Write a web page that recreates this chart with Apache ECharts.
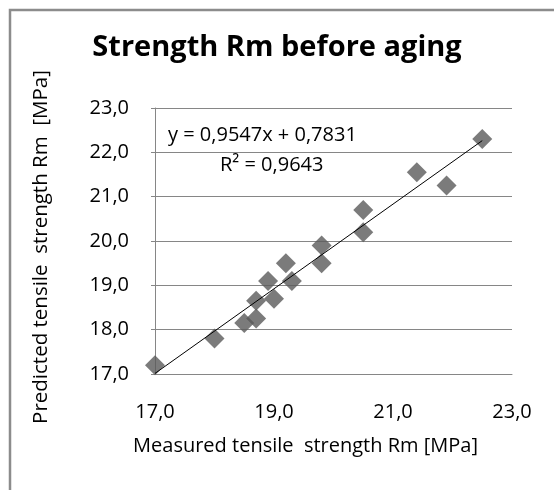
<!DOCTYPE html>
<html lang="en">
<head>
    <meta charset="UTF-8">
    <title>Strength Rm before aging</title>
    <script src="https://cdn.jsdelivr.net/npm/echarts@6/dist/echarts.min.js"></script>
    <style>
        html, body { margin: 0; padding: 0; background: #fff; }
        #chart { width: 554px; height: 490px; }
    </style>
</head>
<body>
<div id="chart"></div>
<script type="text/javascript">
    // measured vs predicted Rm [MPa]
    var measured  = [17.0, 18.0, 18.5, 18.7, 18.7, 19.0, 18.9, 19.2, 19.3, 19.8, 19.8, 20.5, 20.5, 21.4, 21.9, 22.5];
    var predicted = [17.2, 17.8, 18.15, 18.25, 18.65, 18.7, 19.1, 19.5, 19.1, 19.5, 19.9, 20.2, 20.7, 21.55, 21.25, 22.3];
    var trendCoef = [0.9547, 0.7831]; // slope, intercept
    var r2 = 0.9643;
    var axisTicks = [17, 19, 21, 23];

    var points = measured.map(function (x, i) { return [x, predicted[i]]; });
    var xMin = Math.min.apply(null, measured), xMax = Math.max.apply(null, measured);
    var trend = [xMin, xMax].map(function (x) { return [x, trendCoef[0] * x + trendCoef[1]]; });

    function fmt(v) { return v.toFixed(1).replace('.', ','); }
    function fmt4(v) { return v.toFixed(4).replace('.', ','); }

    var FONT = 'Open Sans';
    var chart = echarts.init(document.getElementById('chart'));
    chart.setOption({
        animation: false,
        textStyle: { fontFamily: FONT },
        title: {
            text: 'Strength Rm before aging',
            left: 'center',
            top: 28,
            textStyle: { fontFamily: FONT, fontSize: 29, fontWeight: 'bold', color: '#000' }
        },
        graphic: [
            // chart frame (only top and left edges visible)
            { type: 'rect', shape: { x: 10, y: 10, width: 700, height: 700 },
              style: { fill: 'none', stroke: '#8c8c8c', lineWidth: 2.5 }, silent: true },
            { type: 'text', left: 168, top: 125,
              style: { text: 'y = ' + fmt4(trendCoef[0]) + 'x + ' + fmt4(trendCoef[1]), font: '20px ' + FONT, fill: '#000' } },
            { type: 'text', left: 220, top: 155,
              style: { text: 'R² = ' + fmt4(r2), font: '20px ' + FONT, fill: '#000' } }
        ],
        grid: { left: 155, right: 42, top: 108, bottom: 116 },
        xAxis: {
            type: 'value',
            min: axisTicks[0], max: axisTicks[axisTicks.length - 1], interval: 2,
            name: 'Measured tensile  strength Rm [MPa]',
            nameLocation: 'middle', nameGap: 62,
            nameTextStyle: { fontFamily: FONT, fontSize: 20, color: '#000', padding: [0, 56, 0, 0] },
            axisLine: { lineStyle: { color: '#868686' } },
            axisTick: { show: false },
            splitLine: { show: false },
            axisLabel: { formatter: fmt, fontSize: 20, color: '#000', margin: 28 }
        },
        yAxis: {
            type: 'value',
            min: 17, max: 23, interval: 1,
            name: 'Predicted tensile  strength Rm  [MPa]',
            nameLocation: 'middle', nameGap: 103,
            nameTextStyle: { fontFamily: FONT, fontSize: 20.5, color: '#000', padding: [0, 12, 0, 0] },
            axisLine: { show: true, lineStyle: { color: '#868686' } },
            axisTick: { show: true, length: 4, lineStyle: { color: '#868686' } },
            splitLine: { lineStyle: { color: '#868686' } },
            axisLabel: { formatter: fmt, fontSize: 20, color: '#000', margin: 26 }
        },
        series: [{
            type: 'line',
            data: trend,
            symbol: 'none',
            lineStyle: { color: '#000', width: 1 },
            z: 3
        }, {
            type: 'scatter',
            data: points,
            symbol: 'diamond',
            symbolSize: [20, 20],
            itemStyle: { color: '#5a5a5a' },
            z: 2
        }]
    });
</script>
</body>
</html>
